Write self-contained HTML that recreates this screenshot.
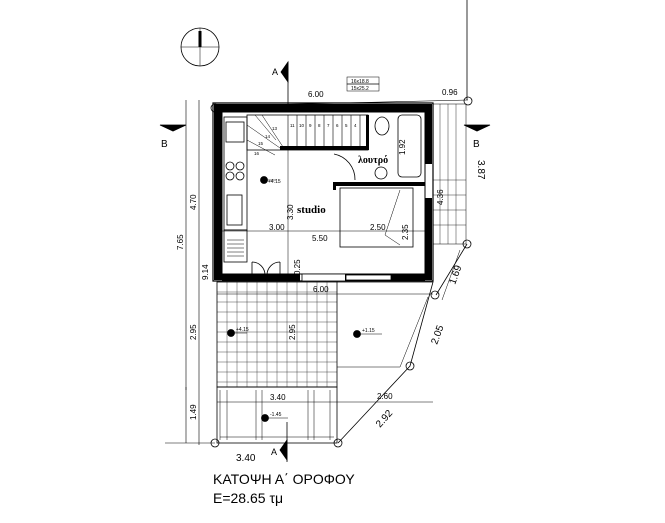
<!DOCTYPE html>
<html><head><meta charset="utf-8"><style>
html,body{margin:0;padding:0;background:#fff;}
svg{display:block;font-family:"Liberation Sans",sans-serif;}
</style></head><body>
<svg width="665" height="523" viewBox="0 0 665 523" xmlns="http://www.w3.org/2000/svg">
<rect width="665" height="523" fill="#fff"/>
<g stroke="#000" fill="none" stroke-width="0.8">
<circle cx="200" cy="47" r="19"/>
<line x1="181" y1="47" x2="219" y2="47" stroke-width="0.5"/>
<line x1="200" y1="28" x2="200" y2="66" stroke-width="0.5"/>
<line x1="200" y1="31" x2="200" y2="47" stroke-width="3"/>
<line x1="467" y1="0" x2="467" y2="100"/>
<line x1="288" y1="62" x2="288" y2="108"/>
<polygon points="288,62 288,82 281,72" fill="#000"/>
<line x1="287" y1="422" x2="287" y2="462"/>
<polygon points="287,440 287,460 280,450" fill="#000"/>
<polygon points="160,125 186,125 173,131" fill="#000"/>
<polygon points="464,125 490,125 477,131" fill="#000"/>
<line x1="215" y1="106" x2="468" y2="100" stroke-width="0.6"/>
<circle cx="215" cy="108" r="4"/>
<circle cx="468" cy="101" r="4"/>
<path d="M213,103 H433 V281 H213 Z" stroke-width="1.2"/>
<path d="M222,112 H425 V274 H222 Z" stroke-width="1"/>
<rect x="216" y="104" width="215" height="8" fill="#000" stroke="none"/>
<rect x="214" y="104" width="8" height="176" fill="#000" stroke="none"/>
<rect x="425" y="104" width="7" height="60" fill="#000" stroke="none"/>
<rect x="425" y="198" width="7" height="82" fill="#000" stroke="none"/>
<rect x="222" y="274" width="78" height="7" fill="#000" stroke="none"/>
<rect x="302" y="274" width="44" height="7" fill="#fff"/>
<rect x="345" y="274" width="80" height="7" fill="#000" stroke="none"/>
<rect x="346" y="275" width="45" height="5" fill="#fff"/>
<rect x="224" y="117" width="23" height="113"/>
<rect x="226" y="122" width="18" height="20"/>
<circle cx="230" cy="166" r="4"/><circle cx="240" cy="166" r="4"/>
<circle cx="230" cy="176" r="4"/><circle cx="240" cy="176" r="4"/>
<rect x="227" y="195" width="15" height="30"/>
<rect x="224" y="230" width="23" height="32"/>
<path d="M227,240 H244 M227,244 H244 M227,248 H244 M227,252 H244 M227,256 H244" stroke-width="0.5"/>
<rect x="247" y="115" width="121" height="35"/>
<path d="M288,115 V150 M297,115 V150 M306,115 V150 M315,115 V150 M324,115 V150 M333,115 V150 M342,115 V150 M351,115 V150 M360,115 V150" stroke-width="0.6"/>
<path d="M255,115 L276,140 M262,115 L285,150 M247,125 L280,148 M247,140 L275,155" stroke-width="0.5"/>
<rect x="280" y="146" width="88" height="4" fill="#000" stroke="none"/>
<rect x="366" y="115" width="3" height="35" fill="#000" stroke="none"/>
<rect x="333" y="182" width="92" height="4" fill="#000" stroke="none"/>
<rect x="333" y="182" width="3" height="8" fill="#000" stroke="none"/>
<rect x="398" y="115" width="23" height="62" rx="4"/>
<ellipse cx="382" cy="126" rx="7" ry="9"/>
<circle cx="381" cy="173" r="6"/>
<path d="M334,154 A26,26 0 0 1 355,180"/>
<rect x="340" y="188" width="73" height="59"/>
<path d="M400,190 L385,235 L400,245" stroke-width="0.5"/>
<line x1="222" y1="231" x2="425" y2="231" stroke-width="0.5"/>
<line x1="288" y1="150" x2="288" y2="281" stroke-width="0.5"/>
<path d="M252,262 A13,13 0 0 1 265,275 M280,262 A13,13 0 0 0 267,275 M252,262 V275 M280,262 V275"/>
<rect x="433" y="104" width="33" height="140" stroke-width="0.5"/>
<path d="M440,104 V244 M448,104 V244 M456,104 V244 M433,180 H466 M433,195 H466 M433,210 H466 M433,225 H466" stroke-width="0.4"/>
<circle cx="467" cy="244" r="4"/>
<line x1="467" y1="244" x2="436" y2="295"/>
<line x1="460" y1="250" x2="442" y2="300" stroke-width="0.5"/>
<line x1="186" y1="100" x2="186" y2="390" stroke-width="0.6"/>
<line x1="199" y1="100" x2="199" y2="445" stroke-width="0.6"/>
<line x1="186" y1="387" x2="186" y2="443" stroke-width="0.6"/>
<line x1="165" y1="443" x2="215" y2="443" stroke-width="0.6"/>
<rect x="217" y="282" width="120" height="105" stroke-width="0.8"/>
<path d="M227,282V387 M237,282V387 M247,282V387 M257,282V387 M267,282V387 M277,282V387 M287,282V387 M297,282V387 M307,282V387 M317,282V387 M327,282V387" stroke-width="0.35"/>
<path d="M217,292H337 M217,302H337 M217,312H337 M217,322H337 M217,332H337 M217,342H337 M217,352H337 M217,362H337 M217,372H337 M217,382H337" stroke-width="0.35"/>
<line x1="217" y1="294" x2="433" y2="294" stroke-width="0.5"/>
<path d="M337,282 H433 L410,366 L338,443" />
<path d="M337,367 H400 L428,297" stroke-width="0.5"/>
<circle cx="435" cy="295" r="4"/>
<circle cx="410" cy="366" r="4"/>
<rect x="217" y="387" width="120" height="56"/>
<path d="M220,390 V440 M227,390 V440 M256,390 V440 M262,390 V440 M308,390 V440 M314,390 V440 M330,390 V440 M220,437 H334" stroke-width="0.5"/>
<line x1="217" y1="402" x2="433" y2="402" stroke-width="0.5"/>
<circle cx="215" cy="443" r="4"/>
<circle cx="338" cy="443" r="4"/>
<circle cx="264" cy="180" r="3.5" fill="#000"/>
<circle cx="231" cy="333" r="3.5" fill="#000"/>
<circle cx="357" cy="334" r="3.5" fill="#000"/>
<circle cx="265" cy="418" r="3.5" fill="#000"/>
<path d="M264,180H276 M231,333H247 M357,334H382 M265,418H288" stroke-width="0.5"/>
<rect x="347" y="77" width="32" height="7" stroke-width="0.5"/>
<rect x="347" y="84" width="32" height="7" stroke-width="0.5"/>
</g>
<g fill="#000" font-size="8">
<g font-size="4.5"><text x="290" y="127">11</text><text x="299" y="127">10</text><text x="309" y="127">9</text><text x="318" y="127">8</text><text x="327" y="127">7</text><text x="336" y="127">6</text><text x="345" y="127">5</text><text x="354" y="127">4</text><text x="272" y="130">13</text><text x="265" y="138">14</text><text x="258" y="145">15</text><text x="254" y="155">16</text></g>
<text x="308" y="97">6.00</text>
<text x="442" y="95">0.96</text>
<text x="351" y="83" font-size="5">16x18.8</text>
<text x="351" y="90" font-size="5">15x25.2</text>
<text x="268" y="183" font-size="5">+4.15</text>
<text x="236" y="331" font-size="5">+4.15</text>
<text x="362" y="332" font-size="5">+1.15</text>
<text x="270" y="416" font-size="5">-1.45</text>
<text x="297" y="213" font-family="Liberation Serif" font-weight="bold" font-size="11">studio</text>
<text x="358" y="163" font-family="Liberation Serif" font-weight="bold" font-size="10">λουτρό</text>
<text x="269" y="230">3.00</text>
<text x="370" y="230">2.50</text>
<text x="312" y="241">5.50</text>
<text x="313" y="292">6.00</text>
<text x="270" y="400">3.40</text>
<text x="377" y="399">2.60</text>
<text x="236" y="461" font-size="10">3.40</text>
<text x="161" y="147" font-size="10">B</text>
<text x="473" y="147" font-size="10">B</text>
<text x="272" y="75" font-size="9">A</text>
<text x="271" y="455" font-size="9">A</text>
<text transform="translate(196,210) rotate(-90)">4.70</text>
<text transform="translate(183,250) rotate(-90)">7.65</text>
<text transform="translate(208,280) rotate(-90)">9.14</text>
<text transform="translate(196,340) rotate(-90)">2.95</text>
<text transform="translate(196,420) rotate(-90)">1.49</text>
<text transform="translate(295,340) rotate(-90)">2.95</text>
<text transform="translate(293,220) rotate(-90)">3.30</text>
<text transform="translate(300,275) rotate(-90)">0.25</text>
<text transform="translate(408,240) rotate(-90)">2.35</text>
<text transform="translate(405,155) rotate(-90)">1.92</text>
<text transform="translate(443,205) rotate(-90)">4.36</text>
<text transform="translate(478,160) rotate(90)" font-size="10">3.87</text>
<text transform="translate(455,285) rotate(-70)" font-size="10">1.69</text>
<text transform="translate(437,345) rotate(-70)" font-size="10">2.05</text>
<text transform="translate(380,428) rotate(-48)" font-size="10">2.92</text>
<text x="213" y="484" font-size="14">ΚΑΤΟΨΗ  Α΄ ΟΡΟΦΟΥ</text>
<text x="213" y="503" font-size="14">Ε=28.65 τμ</text>
</g>
</svg>
</body></html>
